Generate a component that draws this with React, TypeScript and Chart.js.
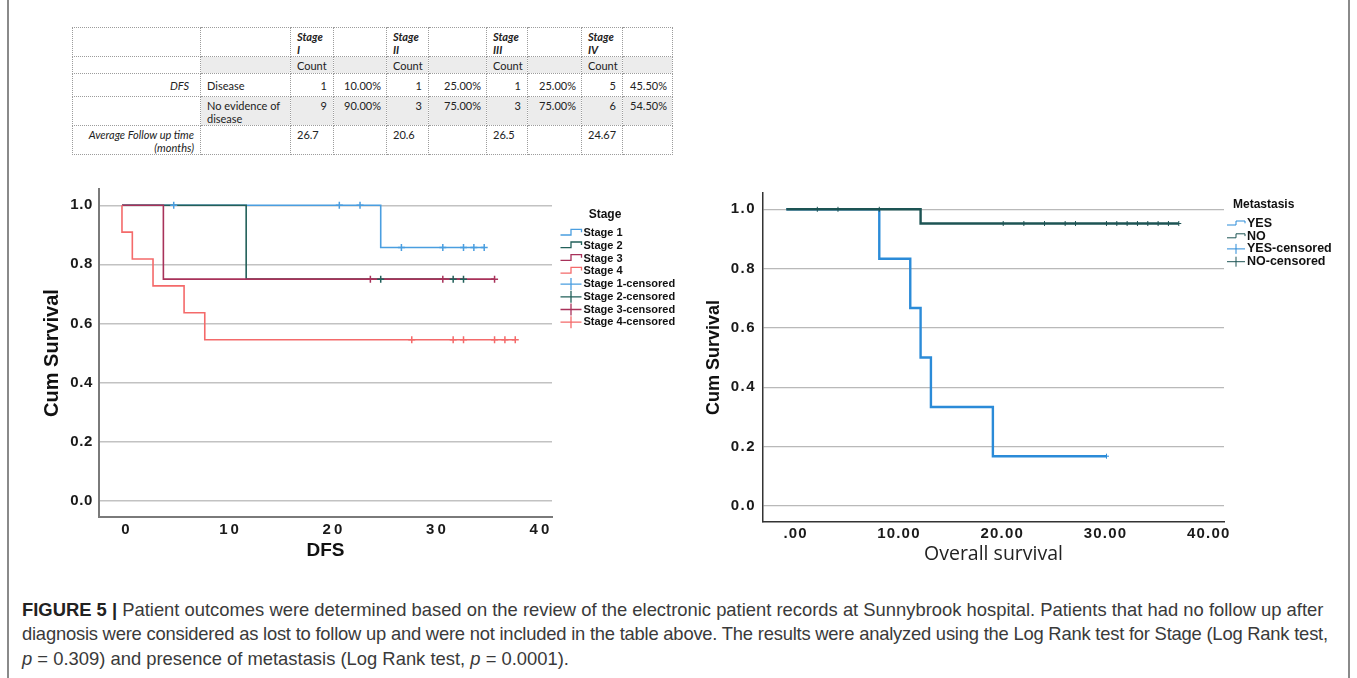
import React, { useEffect, useRef } from 'react';
import { Chart, registerables } from 'chart.js';

Chart.register(...registerables);

// ---------------- Table data ----------------
const stageHeaders = ['I', 'II', 'III', 'IV'];
const diseaseCounts = ['1', '1', '1', '5'];
const diseasePct = ['10.00%', '25.00%', '25.00%', '45.50%'];
const nedCounts = ['9', '3', '3', '6'];
const nedPct = ['90.00%', '75.00%', '75.00%', '54.50%'];
const avgFollowUp = ['26.7', '20.6', '26.5', '24.67'];

// ---------------- DFS by stage (Kaplan-Meier) ----------------
const stageLabels = ['Stage 1', 'Stage 2', 'Stage 3', 'Stage 4'];
const stage1Time = [0, 25, 35];
const stage1Surv = [1, 0.857, 0.857];
const stage2Time = [0, 12, 33];
const stage2Surv = [1, 0.75, 0.75];
const stage3Time = [0, 4, 36];
const stage3Surv = [1, 0.75, 0.75];
const stage4Time = [0, 0, 1, 3, 6, 8, 38];
const stage4Surv = [1, 0.909, 0.818, 0.727, 0.636, 0.545, 0.545];
const stage1Censored = [5, 21, 23, 27, 31, 33, 34, 35];
const stage2Censored = [25, 32, 33];
const stage3Censored = [24, 31, 36];
const stage4Censored = [28, 32, 33, 36, 37, 38];
const dfsTicks = [0, 10, 20, 30, 40];
const survTicks = [0, 0.2, 0.4, 0.6, 0.8, 1.0];

// ---------------- OS by metastasis (Kaplan-Meier) ----------------
const metLabels = ['YES', 'NO'];
const yesTime = [-1, 8, 11, 12, 13, 19, 30];
const yesSurv = [1, 0.833, 0.667, 0.5, 0.333, 0.167, 0.167];
const noTime = [-1, 12, 37];
const noSurv = [1, 0.952, 0.952];
const yesCensored = [30];
const noCensored = [2, 4, 8, 20, 22, 24, 26, 27, 30, 31, 32, 33, 34, 35, 36, 37];
const osTicks = [0, 10, 20, 30, 40];

// ---------------- helpers ----------------
const SANS = '"Liberation Sans", Arial, Helvetica, sans-serif';
const NARROW = '"Liberation Sans Narrow", "Liberation Sans", Arial, sans-serif';

function pts(times: number[], surv: number[]) {
  return times.map((t, i) => ({ x: t, y: surv[i] }));
}
function survAt(times: number[], surv: number[], t: number) {
  let s = surv[0];
  for (let i = 0; i < times.length; i++) if (times[i] <= t) s = surv[i];
  return s;
}
function censorPts(c: number[], times: number[], surv: number[]) {
  return c.map((t) => ({ x: t, y: survAt(times, surv, t) }));
}
function stepDs(label: string, times: number[], surv: number[], color: string, width: number, order: number) {
  return {
    label,
    data: pts(times, surv),
    borderColor: color,
    backgroundColor: color,
    borderWidth: width,
    stepped: true,
    pointRadius: 0,
    pointHoverRadius: 0,
    fill: false,
    order,
    legendKind: 'step',
    legendColor: color,
  };
}
function censDs(label: string, data: any[], color: string, radius: number, width: number) {
  return {
    label,
    data,
    showLine: false,
    pointStyle: 'cross',
    pointRadius: radius,
    pointHoverRadius: radius,
    pointBorderWidth: width,
    pointBorderColor: color,
    borderColor: color,
    backgroundColor: color,
    order: 0,
    legendKind: 'cross',
    legendColor: color,
  };
}

// spaced tick labels (SPSS-like letter spacing)
function spacedLabels(spacing: string) {
  return (s: any) => {
    if (s.__spaced) return;
    s.__spaced = true;
    const orig = Object.getPrototypeOf(s).drawLabels;
    s.drawLabels = function (area: any) {
      const ctx = this.ctx as any;
      const prev = ctx.letterSpacing;
      ctx.letterSpacing = spacing;
      orig.call(this, area);
      ctx.letterSpacing = prev || '0px';
    };
  };
}

const kmLegend = {
  id: 'kmLegend',
  afterDraw(chart: any, _args: any, opts: any) {
    const ctx = chart.ctx as CanvasRenderingContext2D;
    ctx.save();
    (ctx as any).letterSpacing = '0px';
    ctx.fillStyle = '#111';
    ctx.textBaseline = 'middle';
    ctx.textAlign = opts.titleAlign;
    ctx.font = opts.titleFont;
    ctx.fillText(opts.title, opts.titleX, opts.titleY);
    ctx.font = opts.itemFont;
    ctx.textAlign = 'left';
    chart.data.datasets.forEach((ds: any, i: number) => {
      const y = opts.firstY + i * opts.step;
      const x0 = opts.symX;
      const w = opts.symW;
      ctx.strokeStyle = ds.legendColor;
      ctx.lineWidth = opts.symLine;
      ctx.beginPath();
      if (ds.legendKind === 'step') {
        ctx.moveTo(x0, y + opts.stepBase);
        ctx.lineTo(x0 + w / 2, y + opts.stepBase);
        ctx.lineTo(x0 + w / 2, y + opts.stepTop);
        ctx.lineTo(x0 + w, y + opts.stepTop);
        ctx.lineTo(x0 + w, y + opts.stepEnd);
      } else {
        ctx.moveTo(x0, y);
        ctx.lineTo(x0 + w, y);
        ctx.moveTo(x0 + w / 2, y - opts.crossH);
        ctx.lineTo(x0 + w / 2, y + opts.crossH);
      }
      ctx.stroke();
      ctx.fillStyle = '#111';
      ctx.fillText(ds.label, opts.textX, y);
    });
    ctx.restore();
  },
};

function makeScales(o: any) {
  return {
    x: {
      type: 'linear',
      min: o.xMin,
      max: o.xMax,
      afterBuildTicks: (s: any) => {
        s.ticks = o.xTicks.map((v: number) => ({ value: v }));
      },
      afterFit: (s: any) => {
        s.height = o.xHeight;
        spacedLabels(o.xSpacing)(s);
      },
      grid: { display: false, drawTicks: false },
      border: { display: true, color: o.axisColor, width: o.axisWidth },
      ticks: {
        color: '#1a1a1a',
        font: { family: SANS, size: 15, weight: 'bold' },
        padding: o.xTickPad,
        labelOffset: o.xLabelOffset,
        maxRotation: 0,
        autoSkip: false,
        callback: o.xFmt,
      },
      title: {
        display: true,
        text: o.xTitle,
        color: o.xTitleColor,
        font: o.xTitleFont,
        padding: { top: 0, bottom: o.xTitlePad },
      },
    },
    y: {
      type: 'linear',
      min: -0.055,
      max: 1.055,
      afterBuildTicks: (s: any) => {
        s.ticks = survTicks.map((v) => ({ value: v }));
      },
      afterFit: (s: any) => {
        s.width = o.yWidth;
        spacedLabels(o.ySpacing)(s);
      },
      grid: { color: o.gridColor, lineWidth: o.gridWidth, drawTicks: false },
      border: { display: true, color: o.axisColor, width: o.axisWidth },
      ticks: {
        color: '#1a1a1a',
        font: { family: SANS, size: 15, weight: 'bold' },
        padding: o.yTickPad,
        callback: (v: any) => Number(v).toFixed(1),
      },
      title: {
        display: true,
        text: 'Cum Survival',
        color: '#111',
        font: { family: SANS, size: o.yTitleSize, weight: 'bold' },
        padding: { top: o.yTitlePad, bottom: 0 },
      },
    },
  };
}

function leftConfig(): any {
  const c1 = '#4a9ee0';
  const c2 = '#22605a';
  const c3 = '#a8325a';
  const c4 = '#f46a6a';
  return {
    type: 'line',
    data: {
      datasets: [
        stepDs(stageLabels[0], stage1Time, stage1Surv, c1, 1.6, 4),
        stepDs(stageLabels[1], stage2Time, stage2Surv, c2, 1.6, 3),
        stepDs(stageLabels[2], stage3Time, stage3Surv, c3, 1.6, 2),
        stepDs(stageLabels[3], stage4Time, stage4Surv, c4, 1.6, 1),
        censDs(stageLabels[0] + '-censored', censorPts(stage1Censored, stage1Time, stage1Surv), c1, 3.5, 1.5),
        censDs(stageLabels[1] + '-censored', censorPts(stage2Censored, stage2Time, stage2Surv), c2, 3.5, 1.5),
        censDs(stageLabels[2] + '-censored', censorPts(stage3Censored, stage3Time, stage3Surv), c3, 3.5, 1.5),
        censDs(stageLabels[3] + '-censored', censorPts(stage4Censored, stage4Time, stage4Surv), c4, 3.5, 1.5),
      ],
    },
    plugins: [kmLegend],
    options: {
      animation: false,
      responsive: false,
      maintainAspectRatio: false,
      events: [],
      layout: { padding: { left: 0, top: 20, right: 148, bottom: 0 } },
      plugins: {
        legend: { display: false },
        tooltip: { enabled: false },
        kmLegend: {
          title: 'Stage',
          titleFont: `bold 12px ${SANS}`,
          titleAlign: 'center',
          titleX: 605,
          titleY: 46,
          itemFont: `bold 11px ${SANS}`,
          firstY: 64.3,
          step: 12.7,
          symX: 560.5,
          symW: 21,
          textX: 583.5,
          stepBase: 1.7,
          stepTop: -4,
          stepEnd: -1,
          crossH: 6,
          symLine: 1.3,
        },
      },
      scales: makeScales({
        xMin: -2.22,
        xMax: 41.55,
        xTicks: dfsTicks,
        xHeight: 53,
        xTickPad: 4,
        xLabelOffset: 5,
        xSpacing: '3px',
        ySpacing: '0.6px',
        xFmt: (v: any) => String(v),
        xTitle: 'DFS',
        xTitleColor: '#111',
        xTitleFont: { family: SANS, size: 19, weight: 'bold' },
        xTitlePad: 7.6,
        yWidth: 99,
        yTickPad: 6,
        yTitleSize: 20,
        yTitlePad: 40,
        axisColor: '#7a7a7a',
        axisWidth: 2,
        gridColor: '#c2c2c2',
        gridWidth: 1.4,
      }),
    },
  };
}

function rightConfig(): any {
  const cy = '#2b8bd8';
  const cn = '#1d5454';
  return {
    type: 'line',
    data: {
      datasets: [
        stepDs(metLabels[0], yesTime, yesSurv, cy, 2.4, 2),
        stepDs(metLabels[1], noTime, noSurv, cn, 2.4, 1),
        censDs(metLabels[0] + '-censored', censorPts(yesCensored, yesTime, yesSurv), cy, 2.5, 1),
        censDs(metLabels[1] + '-censored', censorPts(noCensored, noTime, noSurv), cn, 2.5, 1),
      ],
    },
    plugins: [kmLegend],
    options: {
      animation: false,
      responsive: false,
      maintainAspectRatio: false,
      events: [],
      layout: { padding: { left: 0, top: 20, right: 133, bottom: 0 } },
      plugins: {
        legend: { display: false },
        tooltip: { enabled: false },
        kmLegend: {
          title: 'Metastasis',
          titleFont: `bold 12px ${SANS}`,
          titleAlign: 'left',
          titleX: 543,
          titleY: 32,
          itemFont: `bold 12.5px ${NARROW}`,
          firstY: 50.3,
          step: 12.8,
          symX: 537,
          symW: 18,
          textX: 557,
          stepBase: 1.7,
          stepTop: -2.3,
          stepEnd: 0,
          crossH: 5,
          symLine: 1,
        },
      },
      scales: makeScales({
        xMin: -3.26,
        xMax: 41.38,
        xTicks: osTicks,
        xHeight: 53,
        xTickPad: 3.3,
        xLabelOffset: -1,
        xSpacing: '1.2px',
        ySpacing: '1.5px',
        xFmt: (v: any) => (Number(v) === 0 ? '.00' : Number(v).toFixed(2)),
        xTitle: 'Overall survival',
        xTitleColor: '#222',
        xTitleFont: { family: '"Open Sans", "Noto Sans", sans-serif', size: 19.5, weight: 'normal' },
        xTitlePad: 8.4,
        yWidth: 73,
        yTickPad: 7,
        yTitleSize: 18,
        yTitlePad: 13.2,
        axisColor: '#333333',
        axisWidth: 1.5,
        gridColor: '#b9b9b9',
        gridWidth: 1.2,
      }),
    },
  };
}

// ---------------- table ----------------
const colW = [128, 90, 43, 53, 42, 58, 41, 54, 41, 50];
const rowH = [29, 17, 23, 29, 28];
const cellBase: React.CSSProperties = {
  border: '1px dotted #9c9c9c',
  padding: '2px 6px 0 6px',
  verticalAlign: 'top',
  fontSize: 11,
  lineHeight: '13px',
  fontFamily: 'Lato, "Open Sans", sans-serif',
  color: '#222',
  overflow: 'hidden',
  whiteSpace: 'nowrap',
};
const GRAY = '#ececec';

function Cell(props: {
  children?: any;
  align?: 'left' | 'right';
  italic?: boolean;
  bold?: boolean;
  bg?: string;
  middle?: boolean;
  padRight?: number;
}) {
  return (
    <td
      style={{
        ...cellBase,
        textAlign: props.align || 'left',
        fontStyle: props.italic ? 'italic' : 'normal',
        fontWeight: props.bold ? 700 : 400,
        background: props.bg || 'transparent',
        verticalAlign: props.middle ? 'middle' : 'top',
        paddingRight: props.padRight !== undefined ? props.padRight : 6,
        paddingTop: props.middle ? 0 : 2,
      }}
    >
      {props.children}
    </td>
  );
}

function DataTable() {
  return (
    <table
      style={{
        position: 'absolute',
        left: 72,
        top: 27,
        width: 600,
        borderCollapse: 'collapse',
        tableLayout: 'fixed',
      }}
    >
      <colgroup>
        {colW.map((w, i) => (
          <col key={i} style={{ width: w }} />
        ))}
      </colgroup>
      <tbody>
        <tr style={{ height: rowH[0] }}>
          <Cell />
          <Cell />
          {stageHeaders.map((s) => [
            <Cell key={s + 'a'} italic bold>
              Stage
              <br />
              {s}
            </Cell>,
            <Cell key={s + 'b'} />,
          ])}
        </tr>
        <tr style={{ height: rowH[1] }}>
          <Cell />
          <Cell bg={GRAY} />
          {stageHeaders.map((s) => [
            <Cell key={s + 'a'} bg={GRAY}>
              Count
            </Cell>,
            <Cell key={s + 'b'} bg={GRAY} />,
          ])}
        </tr>
        <tr style={{ height: rowH[2] }}>
          <Cell align="right" italic middle padRight={11}>
            DFS
          </Cell>
          <Cell middle>Disease</Cell>
          {stageHeaders.map((s, i) => [
            <Cell key={s + 'a'} align="right" middle>
              {diseaseCounts[i]}
            </Cell>,
            <Cell key={s + 'b'} align="right" middle padRight={5}>
              {diseasePct[i]}
            </Cell>,
          ])}
        </tr>
        <tr style={{ height: rowH[3] }}>
          <Cell />
          <Cell bg={GRAY}>
            No evidence of
            <br />
            disease
          </Cell>
          {stageHeaders.map((s, i) => [
            <Cell key={s + 'a'} align="right" bg={GRAY}>
              {nedCounts[i]}
            </Cell>,
            <Cell key={s + 'b'} align="right" bg={GRAY} padRight={5}>
              {nedPct[i]}
            </Cell>,
          ])}
        </tr>
        <tr style={{ height: rowH[4] }}>
          <Cell align="right" italic>
            Average Follow up time
            <br />
            (months)
          </Cell>
          <Cell />
          {stageHeaders.map((s, i) => [
            <Cell key={s + 'a'}>{avgFollowUp[i]}</Cell>,
            <Cell key={s + 'b'} />,
          ])}
        </tr>
      </tbody>
    </table>
  );
}

export default function App() {
  const leftRef = useRef<HTMLCanvasElement>(null);
  const rightRef = useRef<HTMLCanvasElement>(null);

  useEffect(() => {
    document.body.style.margin = '0';
    const c1 = new Chart(leftRef.current as HTMLCanvasElement, leftConfig());
    const c2 = new Chart(rightRef.current as HTMLCanvasElement, rightConfig());
    return () => {
      c1.destroy();
      c2.destroy();
    };
  }, []);

  return (
    <div
      style={{
        position: 'relative',
        width: 1357,
        height: 678,
        overflow: 'hidden',
        background: '#fff',
      }}
    >
      <div
        style={{
          position: 'absolute',
          left: 7,
          top: -20,
          width: 1339,
          height: 720,
          borderLeft: '2px solid #8a8a8a',
          borderRight: '2px solid #8a8a8a',
        }}
      />
      <DataTable />
      <canvas
        ref={leftRef}
        width={700}
        height={401}
        style={{ position: 'absolute', left: 0, top: 169, width: 700, height: 401 }}
      />
      <canvas
        ref={rightRef}
        width={667}
        height={402}
        style={{ position: 'absolute', left: 690, top: 173, width: 667, height: 402 }}
      />
      <div
        style={{
          position: 'absolute',
          left: 22,
          top: 597.7,
          fontFamily: SANS,
          fontSize: 18.4,
          lineHeight: '24.7px',
          color: '#3a3a3a',
          whiteSpace: 'nowrap',
        }}
      >
        <div>
          <b style={{ color: '#222' }}>FIGURE 5 |</b> Patient outcomes were determined based on the review of the
          electronic patient records at Sunnybrook hospital. Patients that had no follow up after
        </div>
        <div style={{ letterSpacing: '-0.22px' }}>
          diagnosis were considered as lost to follow up and were not included in the table above. The results were
          analyzed using the Log Rank test for Stage (Log Rank test,
        </div>
        <div>
          <i>p</i> = 0.309) and presence of metastasis (Log Rank test, <i>p</i> = 0.0001).
        </div>
      </div>
    </div>
  );
}
